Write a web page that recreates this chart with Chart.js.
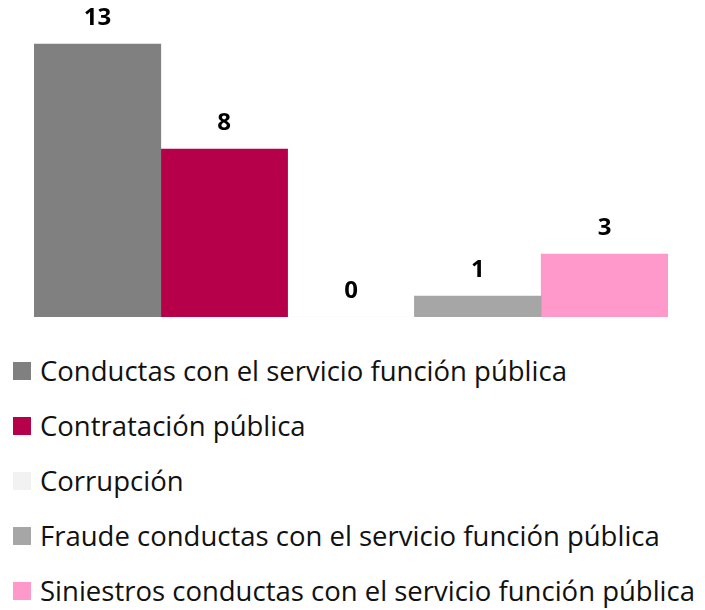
<!DOCTYPE html>
<html>
<head>
<meta charset="utf-8">
<script src="https://cdn.jsdelivr.net/npm/chart.js@4"></script>
<style>
    html, body { margin: 0; padding: 0; background: #fff; }
    #wrap { position: relative; width: 705px; height: 610px; overflow: hidden; }
    #chart { position: absolute; left: 0; top: 0; }
    #legend { position: absolute; left: 13px; top: 343px; font-family: "Open Sans", sans-serif; font-size: 27.5px; color: #111; }
    .row { height: 55px; display: flex; align-items: center; white-space: nowrap; }
    .box { width: 18px; height: 18px; margin-right: 9px; flex: none; }
</style>
</head>
<body>
<div id="wrap">
    <canvas id="chart" width="705" height="340"></canvas>
    <div id="legend"></div>
</div>
<script>
    // ------------------------------------------------------------------
    // Data
    // ------------------------------------------------------------------
    const seriesNames = [
        'Conductas con el servicio función pública',
        'Contratación pública',
        'Corrupción',
        'Fraude conductas con el servicio función pública',
        'Siniestros conductas con el servicio función pública'
    ];
    const seriesValues = [13, 8, 0, 1, 3];
    const seriesColors = ['#808080', '#B7004A', '#F2F2F2', '#A6A6A6', '#FF99CC'];

    // Value labels above each bar
    const valueLabels = {
        id: 'valueLabels',
        afterDatasetsDraw(chart) {
            const c = chart.ctx;
            c.save();
            c.font = 'bold 24px "Open Sans", sans-serif';
            c.fillStyle = '#000';
            c.textAlign = 'center';
            c.textBaseline = 'middle';
            chart.data.datasets.forEach((ds, i) => {
                chart.getDatasetMeta(i).data.forEach((bar, j) => {
                    c.fillText(String(ds.data[j]), bar.x, bar.y - 26);
                });
            });
            c.restore();
        }
    };

    const datasets = seriesNames.map((name, i) => ({
        label: name,
        data: [seriesValues[i]],
        backgroundColor: seriesColors[i],
        borderWidth: 0,
        categoryPercentage: 1,
        barPercentage: 1
    }));

    new Chart(document.getElementById('chart'), {
        type: 'bar',
        data: { labels: [''], datasets },
        plugins: [valueLabels],
        options: {
            responsive: false,
            animation: false,
            layout: { padding: { left: 34, right: 37, top: 23, bottom: 23 } },
            scales: {
                x: { display: false },
                y: { display: false, min: 0, max: 14 }
            },
            plugins: {
                legend: { display: false },
                tooltip: { enabled: false }
            }
        }
    });

    // HTML legend, one entry per line
    const legendEl = document.getElementById('legend');
    seriesNames.forEach((name, i) => {
        const row = document.createElement('div');
        row.className = 'row';
        const box = document.createElement('span');
        box.className = 'box';
        box.style.background = seriesColors[i];
        const txt = document.createElement('span');
        txt.textContent = name;
        row.appendChild(box);
        row.appendChild(txt);
        legendEl.appendChild(row);
    });
</script>
</body>
</html>
